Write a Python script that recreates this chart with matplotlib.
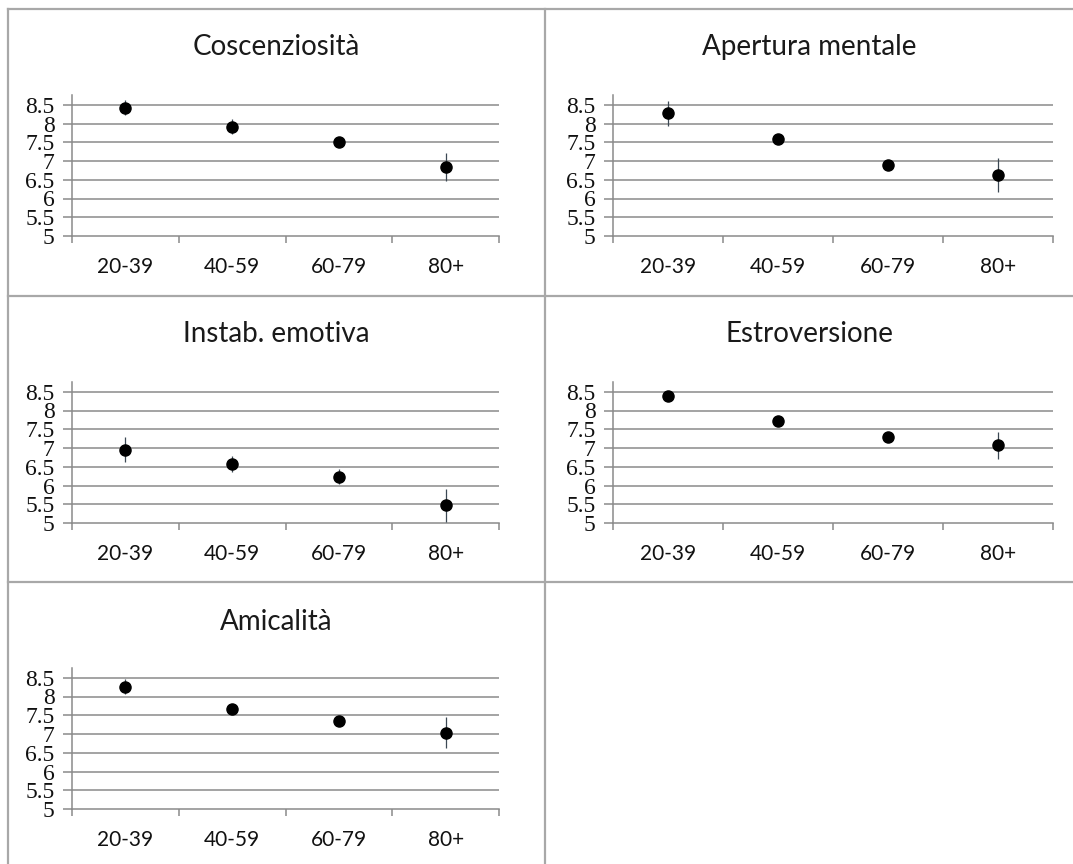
import numpy as np
import matplotlib
matplotlib.use('Agg')
import matplotlib.pyplot as plt
from matplotlib.lines import Line2D

# Data
categories = ['20-39', '40-59', '60-79', '80+']
titles = ['Coscenziosità', 'Apertura mentale', 'Instab. emotiva', 'Estroversione', 'Amicalità']

coscienziosita = [8.42, 7.92, 7.50, 6.85]
coscienziosita_err = [0.20, 0.20, 0.10, 0.37]
apertura = [8.27, 7.58, 6.89, 6.62]
apertura_err = [0.33, 0.10, 0.12, 0.45]
instabilita = [6.96, 6.58, 6.24, 5.47]
instabilita_err = [0.33, 0.22, 0.20, 0.45]
estroversione = [8.38, 7.72, 7.30, 7.07]
estroversione_err = [0.10, 0.12, 0.10, 0.36]
amicalita = [8.26, 7.66, 7.35, 7.04]
amicalita_err = [0.20, 0.10, 0.10, 0.42]

yticks = [5, 5.5, 6, 6.5, 7, 7.5, 8, 8.5]
ytick_labels = ['5', '5.5', '6', '6.5', '7', '7.5', '8', '8.5']

W, H = 1073, 864
fig = plt.figure(figsize=(W / 100, H / 100), dpi=100)
fig.patch.set_facecolor('white')

gridgrey = '#8a8a8a'

# Cell borders (pixel coords from top-left)
def hline(y, x0, x1):
    fig.add_artist(Line2D([x0 / W, x1 / W], [1 - y / H, 1 - y / H], color='#a8a8a8', lw=1.6))

def vline(x, y0, y1):
    fig.add_artist(Line2D([x / W, x / W], [1 - y0 / H, 1 - y1 / H], color='#a8a8a8', lw=1.6))

hline(9, 8, W)
hline(296, 8, W)
hline(582, 8, W)
vline(8, 9, H)
vline(545, 9, H)

series = [
    (coscienziosita, coscienziosita_err),
    (apertura, apertura_err),
    (instabilita, instabilita_err),
    (estroversione, estroversione_err),
    (amicalita, amicalita_err),
]

col_x = [(72, 499), (613, 1053)]
row_y5 = [236, 523, 809]
row_title = [47, 334, 622]
cell_center = [276, 809]
ymax = 8.75
px_per_unit = 37.5

for i, (vals, errs) in enumerate(series):
    r, c = divmod(i, 2)
    x0, x1 = col_x[c]
    ybot = row_y5[r]
    ytop = ybot - (ymax - 5) * px_per_unit
    ax = fig.add_axes([x0 / W, 1 - ybot / H, (x1 - x0) / W, (ybot - ytop) / H])

    x = np.arange(len(categories)) + 0.5
    ax.errorbar(x, vals, yerr=errs, fmt='none', ecolor='#3c4854', elinewidth=0.9, capsize=0, zorder=3)
    ax.plot(x, vals, 'o', color='black', markersize=8, zorder=4)

    ax.set_xlim(0, 4)
    ax.set_ylim(5, ymax)

    # horizontal gridlines
    for yv in yticks[1:]:
        ax.axhline(yv, color=gridgrey, lw=1.1, zorder=1)

    for s in ['top', 'right']:
        ax.spines[s].set_visible(False)
    for s in ['left', 'bottom']:
        ax.spines[s].set_color(gridgrey)
        ax.spines[s].set_linewidth(1.1)

    ax.set_yticks(yticks)
    ax.set_yticklabels(ytick_labels, family='Liberation Serif', fontsize=17, color='#111111')
    ax.tick_params(axis='y', direction='out', length=6.5, width=1.1, color=gridgrey, pad=6)

    ax.set_xticks([0, 1, 2, 3, 4])
    ax.set_xticklabels([])
    ax.set_xticks(x, minor=True)
    ax.set_xticklabels(categories, minor=True, family='Lato', fontsize=15, color='#111111')
    ax.tick_params(axis='x', which='major', direction='out', length=5, width=1.1, color=gridgrey)
    ax.tick_params(axis='x', which='minor', length=0, pad=15)

    fig.text(cell_center[c] / W, 1 - row_title[r] / H, titles[i], ha='center', va='center',
             family='Lato', fontsize=20, color='#1a1a1a')

fig.savefig('out.png', dpi=100, facecolor='white')
